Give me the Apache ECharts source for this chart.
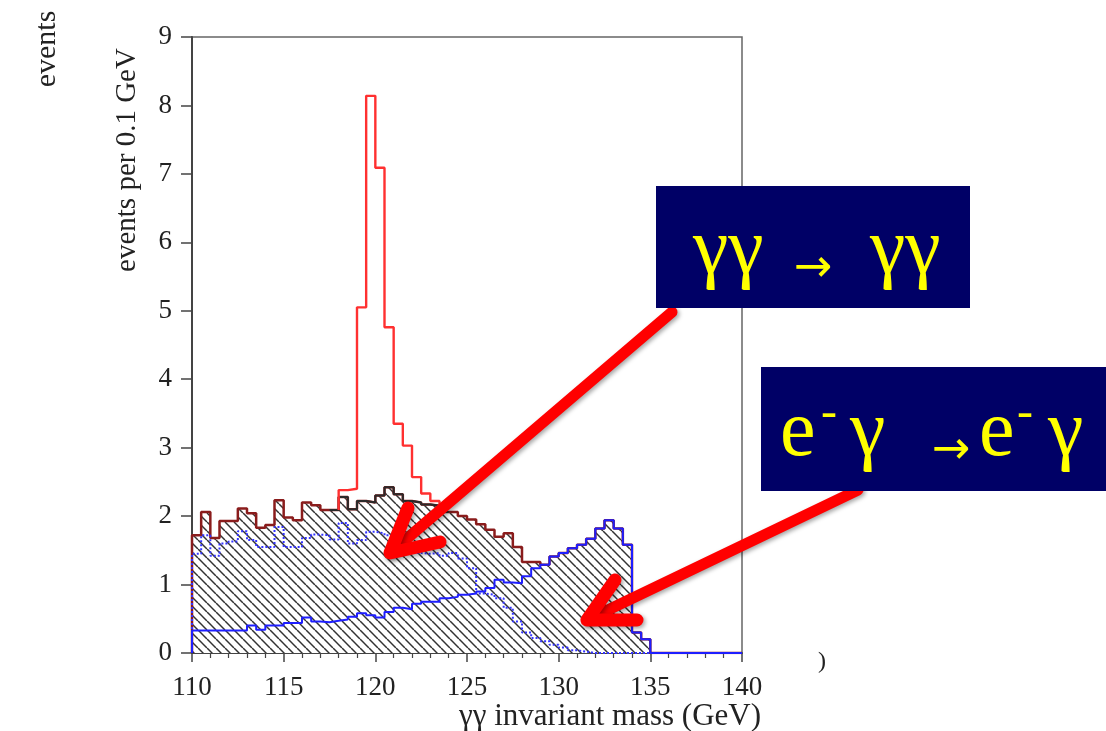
<!DOCTYPE html>
<html>
<head>
<meta charset="utf-8">
<script src="https://cdn.jsdelivr.net/npm/echarts@6/dist/echarts.min.js"></script>
<style>
html,body{margin:0;padding:0;background:#fff;}
#chart{width:1106px;height:731px;}
</style>
</head>
<body>
<div id="chart"></div>
<script>
// ---- data (0.5 GeV bins starting at 110 GeV) ----
const binStart = 110;
const binWidth = 0.5;
const xTicks = [110, 115, 120, 125, 130, 135, 140];
const yTicks = [0, 1, 2, 3, 4, 5, 6, 7, 8, 9];

// total background (hatched, outline)
const bkgTotal = [
  1.72, 2.06, 1.68, 1.93, 1.93, 2.11, 2.04, 1.83, 1.87, 2.23,
  1.98, 1.94, 2.20, 2.16, 2.09, 2.09, 2.28, 2.10, 2.22, 2.20,
  2.30, 2.42, 2.32, 2.22, 2.20, 2.17, 2.15, 2.06, 2.06, 2.00,
  1.95, 1.88, 1.80, 1.70, 1.75, 1.55, 1.33, 1.33, 1.29, 1.41,
  1.46, 1.53, 1.58, 1.67, 1.82, 1.94, 1.82, 1.58, 0.30, 0.20,
  0, 0, 0, 0, 0, 0, 0, 0, 0, 0
];
// e- gamma -> e- gamma background (solid blue)
const eGamma = [
  0.33, 0.33, 0.33, 0.33, 0.33, 0.33, 0.40, 0.34, 0.40, 0.40,
  0.44, 0.44, 0.52, 0.46, 0.45, 0.47, 0.49, 0.53, 0.58, 0.55,
  0.52, 0.60, 0.66, 0.64, 0.72, 0.75, 0.75, 0.80, 0.82, 0.85,
  0.87, 0.90, 0.95, 1.07, 1.03, 1.02, 1.12, 1.24, 1.29, 1.41,
  1.46, 1.53, 1.58, 1.67, 1.82, 1.94, 1.82, 1.58, 0.30, 0.20,
  0, 0, 0, 0, 0, 0, 0, 0, 0, 0
];
// gamma gamma -> gamma gamma background (dotted blue)
const gammaGamma = [
  1.45, 1.72, 1.42, 1.60, 1.63, 1.78, 1.65, 1.55, 1.55, 1.84,
  1.55, 1.55, 1.68, 1.73, 1.72, 1.66, 1.90, 1.60, 1.65, 1.77,
  1.75, 1.72, 1.62, 1.53, 1.46, 1.45, 1.46, 1.42, 1.46, 1.38,
  1.24, 0.87, 0.85, 0.80, 0.66, 0.46, 0.30, 0.22, 0.17, 0.12,
  0.08, 0.04, 0.02, 0, 0, 0, 0, 0, 0, 0,
  0, 0, 0, 0, 0, 0, 0, 0, 0, 0
];
// signal + background (red peak), bins from 118.0 GeV
const peakFirstBin = 16;
const sigPlusBkg = [2.38, 2.40, 5.05, 8.14, 7.09, 4.76, 3.35, 3.03, 2.57, 2.33, 2.22];

// ---- helpers ----
function edge(k){ return binStart + k * binWidth; }
function hist(values, firstBin){
  const pts = [];
  values.forEach((v, i) => {
    const k = firstBin + i;
    pts.push([edge(k), v]);
    pts.push([edge(k + 1), v]);
  });
  return pts;
}
function makeHatch(){
  const s = 9;
  const c = document.createElement('canvas');
  c.width = s; c.height = s;
  const g = c.getContext('2d');
  g.fillStyle = '#ffffff';
  g.fillRect(0, 0, s, s);
  g.strokeStyle = '#333333';
  g.lineWidth = 1.5;
  [-s, 0, s].forEach(d => {
    g.beginPath(); g.moveTo(d, 0); g.lineTo(d + s, s); g.stroke();
  });
  return c;
}

const bkgPts = [[binStart, 0]].concat(hist(bkgTotal, 0));
const peakBkgPts = hist(bkgTotal.slice(15, 28), 15);
const redPts = [[edge(peakFirstBin), bkgTotal[peakFirstBin - 1]]]
  .concat(hist(sigPlusBkg, peakFirstBin))
  .concat([[edge(peakFirstBin + sigPlusBkg.length), bkgTotal[peakFirstBin + sigPlusBkg.length]]]);
const egPts = [[binStart, 0]].concat(hist(eGamma, 0));
const ggPts = [[binStart, 0]].concat(hist(gammaGamma, 0));

const serif = '"Liberation Serif", "DejaVu Serif", serif';
const chart = echarts.init(document.getElementById('chart'), null, {renderer: 'canvas'});

function redArrow(shaftFrom, tip, barbA, barbB){
  const st = {stroke: '#ff0000', lineWidth: 11, lineCap: 'round', lineJoin: 'round', fill: null,
              shadowBlur: 4, shadowColor: 'rgba(0,0,0,0.35)', shadowOffsetX: 2, shadowOffsetY: 2};
  return [
    {type: 'polyline', z: 50, shape: {points: [shaftFrom, tip]}, style: st},
    {type: 'polyline', z: 51, shape: {points: [barbA, tip, barbB]}, style: Object.assign({}, st, {lineWidth: 13})}
  ];
}
function yText(t, x, y, size, family){
  return {type: 'text', z: 70, x: x, y: y,
    style: {text: t, font: 'normal ' + size + 'px ' + (family || serif), fill: '#ffff00', textAlign: 'left', textVerticalAlign: 'middle'}};
}
const arrowFont = '"DejaVu Sans", sans-serif';

const option = {
  animation: false,
  backgroundColor: '#ffffff',
  grid: {left: 192, right: 364, top: 37, bottom: 78, show: true, borderColor: '#666', borderWidth: 1.5, backgroundColor: 'transparent'},
  xAxis: {
    type: 'value', min: xTicks[0], max: xTicks[xTicks.length - 1], interval: 5,
    axisLine: {lineStyle: {color: '#444', width: 2}},
    axisTick: {show: true, length: 9, lineStyle: {color: '#444', width: 1.5}},
    minorTick: {show: true, splitNumber: 5, length: 5, lineStyle: {color: '#444', width: 1.2}},
    axisLabel: {margin: 21, fontFamily: serif, fontSize: 27, color: '#222',
      formatter: v => xTicks.indexOf(v) >= 0 ? String(v) : ''},
    splitLine: {show: false}
  },
  yAxis: {
    type: 'value', min: yTicks[0], max: yTicks[yTicks.length - 1], interval: 1,
    axisLine: {show: true, lineStyle: {color: '#444', width: 2}},
    axisTick: {show: true, length: 11, lineStyle: {color: '#444', width: 1.5}},
    axisLabel: {margin: 20, fontFamily: serif, fontSize: 27, color: '#222'},
    splitLine: {show: false}
  },
  series: [
    {name: 'background total', type: 'line', data: bkgPts, symbol: 'none', z: 2,
     lineStyle: {color: '#8a1c1c', width: 2.5},
     areaStyle: {color: {image: makeHatch(), repeat: 'repeat'}, opacity: 1}},
    {name: 'background peak outline', type: 'line', data: peakBkgPts, symbol: 'none', z: 3,
     lineStyle: {color: '#2a2a2a', width: 2}},
    {name: 'signal + background', type: 'line', data: redPts, symbol: 'none', z: 4,
     lineStyle: {color: '#ff3030', width: 2.4}},
    {name: 'gamma gamma', type: 'line', data: ggPts, symbol: 'none', z: 5,
     lineStyle: {color: '#3333ff', width: 2, type: 'dotted'}},
    {name: 'e gamma', type: 'line', data: egPts, symbol: 'none', z: 6,
     lineStyle: {color: '#1e1eff', width: 2}}
  ],
  graphic: [
    {type: 'text', z: 60, x: 47, y: 49, rotation: Math.PI / 2,
     style: {text: 'events', font: 'normal 30px ' + serif, fill: '#222', textAlign: 'center', textVerticalAlign: 'middle'}},
    {type: 'text', z: 60, x: 127, y: 160, rotation: Math.PI / 2,
     style: {text: 'events per 0.1 GeV', font: 'normal 29px ' + serif, fill: '#222', textAlign: 'center', textVerticalAlign: 'middle'}},
    {type: 'text', z: 60, x: 761, y: 717,
     style: {text: 'γγ invariant mass (GeV)', font: 'normal 31px ' + serif, fill: '#222', textAlign: 'right', textVerticalAlign: 'middle'}},
    {type: 'text', z: 60, x: 822, y: 662,
     style: {text: ')', font: 'normal 24px ' + serif, fill: '#222', textAlign: 'center', textVerticalAlign: 'middle'}}
  ]
  .concat(redArrow([672, 312], [390, 553], [408, 508], [440, 542]))
  .concat(redArrow([858, 490], [587, 620], [615, 580], [637, 620]))
  .concat([
    {type: 'rect', z: 65, shape: {x: 656, y: 186, width: 314, height: 122}, style: {fill: '#000066'}},
    {type: 'rect', z: 65, shape: {x: 761, y: 367, width: 345, height: 124}, style: {fill: '#000066'}},
    yText('γγ', 693, 252, 80),
    yText('→', 794, 269, 46, arrowFont),
    yText('γγ', 870, 252, 80),
    yText('e', 780, 434, 80),
    yText('-', 821, 414, 48),
    yText('γ', 850, 434, 80),
    yText('→', 932, 451, 46, arrowFont),
    yText('e', 979, 434, 80),
    yText('-', 1017, 414, 48),
    yText('γ', 1048, 434, 80)
  ])
};
chart.setOption(option);
</script>
</body>
</html>
